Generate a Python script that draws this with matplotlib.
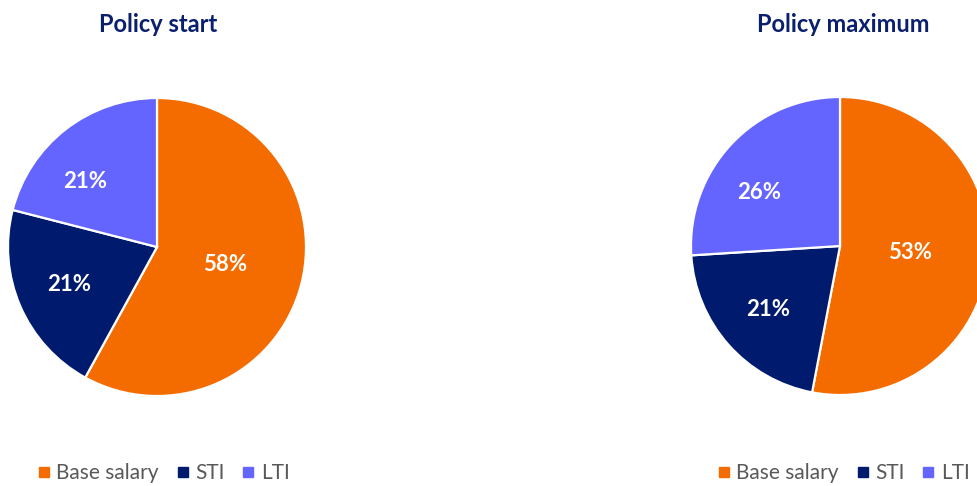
import numpy as np
import matplotlib.pyplot as plt
from matplotlib.lines import Line2D

categories = ["Base salary", "STI", "LTI"]
start_values = [58, 21, 21]
max_values = [53, 21, 26]
titles = ["Policy start", "Policy maximum"]

COLORS = ["#F46B00", "#001A6E", "#6464FF"]
TITLE_COLOR = "#0A1F6E"
FONT = ["Lato", "DejaVu Sans"]
# excel "best fit" label placement: big slice nearer the centre, LTI nudged round
LABEL_DIST = [0.47, 0.64, 0.65]
LABEL_SHIFT = [0, 0, 10]

W, H = 978, 486
fig = plt.figure(figsize=(W / 100, H / 100), dpi=100)


def pie_axes(cx, cy, r):
    # pixel centre / radius -> figure fraction axes
    return fig.add_axes([(cx - r) / W, (H - cy - r) / H, 2 * r / W, 2 * r / H])


def draw_pie(ax, values):
    wedges, _, autotexts = ax.pie(
        values, colors=COLORS, startangle=90, counterclock=False,
        autopct=lambda p: f"{p:.0f}%", pctdistance=0.6, radius=1,
        wedgeprops=dict(edgecolor="white", linewidth=1.6),
        textprops=dict(color="white", fontsize=16, fontweight="bold", family=FONT),
    )
    for w, t, d, s in zip(wedges, autotexts, LABEL_DIST, LABEL_SHIFT):
        w.set_clip_on(False)
        ang = np.deg2rad((w.theta1 + w.theta2) / 2 + s)
        t.set_position((d * np.cos(ang), d * np.sin(ang)))
    ax.set_xlim(-1, 1)
    ax.set_ylim(-1, 1)
    ax.set_aspect("equal")


ax1 = pie_axes(157, 247, 149)
draw_pie(ax1, start_values)
ax2 = pie_axes(840, 246, 149)
draw_pie(ax2, max_values)

fig.text(158 / W, 1 - 25 / H, titles[0], ha="center", va="center",
         fontsize=17, fontweight="bold", color=TITLE_COLOR, family=FONT)
fig.text(843 / W, 1 - 25 / H, titles[1], ha="center", va="center",
         fontsize=17, fontweight="bold", color=TITLE_COLOR, family=FONT)

handles = [Line2D([], [], marker="s", linestyle="none", markersize=6.5,
                  markerfacecolor=c, markeredgecolor=c) for c in COLORS]

for x in (164, 844):
    fig.legend(handles, categories, loc="center", bbox_to_anchor=(x / W, 1 - 473 / H),
               ncol=3, frameon=False, handlelength=0.5, handletextpad=0.35,
               columnspacing=0.9, prop=dict(family=FONT, size=15),
               labelcolor="#595959", borderaxespad=0)

fig.savefig("out.png", dpi=100)
